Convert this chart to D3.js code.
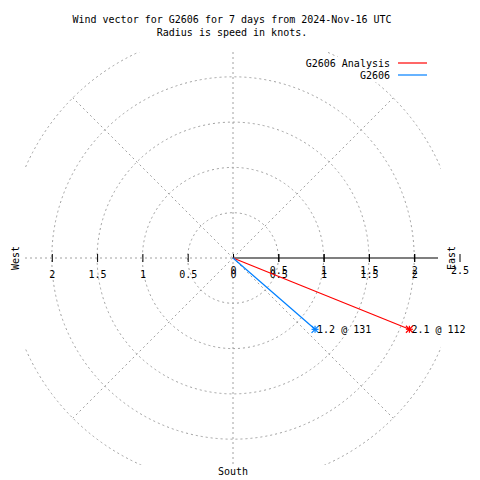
<!DOCTYPE html>
<html><head><meta charset="utf-8">
<script src="https://cdn.jsdelivr.net/npm/d3@7"></script>
<style>
html,body{margin:0;padding:0;background:#fff;}
text{font-family:"DejaVu Sans Mono",monospace;font-size:10px;fill:#000;}
</style></head>
<body>
<svg id="c" width="480" height="480"></svg>
<script>
const titleLines = ["Wind vector for G2606 for 7 days from 2024-Nov-16 UTC", "Radius is speed in knots."];
const seriesNames = ["G2606 Analysis", "G2606"];
const speeds = [2.1, 1.2];
const directions = [112, 131];
const seriesColors = ["#ff0000", "#0080ff"];
const ringValues = [0.5, 1, 1.5, 2, 2.5];
const radialAngles = [45, 135, 225, 315];
const axisTicksRight = [0, 0.5, 1, 1.5, 2, 2.5];
const axisTicksSym = [-2, -1.5, -1, -0.5, 0, 0.5, 1, 1.5, 2];

const svg = d3.select("#c");
const cx = 233, cy = 258;
const maxR = 2.5;
const r = d3.scaleLinear().domain([0, maxR]).range([0, 226.5]);
const xs = d3.scaleLinear().domain([-maxR, maxR]).range([cx - 226.5, cx + 226.5]);
const clip = {x0: 25, y0: 52, x1: 441, y1: 465};

svg.append("defs").append("clipPath").attr("id", "pc")
  .append("rect").attr("x", clip.x0).attr("y", clip.y0)
  .attr("width", clip.x1 - clip.x0).attr("height", clip.y1 - clip.y0);

const grid = svg.append("g").attr("clip-path", "url(#pc)")
  .attr("fill", "none").attr("stroke", "#a0a0a0").attr("stroke-width", 1)
  .attr("stroke-dasharray", "2,3");

grid.selectAll("circle").data(ringValues).join("circle")
  .attr("cx", cx).attr("cy", cy).attr("r", d => r(d));

grid.selectAll("line.rad").data(radialAngles).join("line").attr("class", "rad")
  .attr("x1", cx).attr("y1", cy)
  .attr("x2", d => cx + r(maxR) * Math.sin(d * Math.PI / 180))
  .attr("y2", d => cy - r(maxR) * Math.cos(d * Math.PI / 180));

grid.append("line").attr("x1", cx).attr("x2", cx).attr("y1", clip.y0).attr("y2", clip.y1);
grid.append("line").attr("x1", clip.x0).attr("x2", cx).attr("y1", cy).attr("y2", cy);

svg.append("line").attr("x1", cx).attr("x2", cx + 205).attr("y1", cy).attr("y2", cy)
  .attr("stroke", "#000").attr("stroke-width", 1.2);

const styleText = sel => sel.attr("font-family", null).attr("font-size", null)
  .style("font-family", "'DejaVu Sans Mono',monospace").style("font-size", "10px");

const xr = d3.scaleLinear().domain([0, maxR]).range([cx, cx + r(maxR)]);
const axR = svg.append("g").attr("transform", `translate(0,${cy})`)
  .call(d3.axisBottom(xr).tickValues(axisTicksRight).tickFormat(d3.format("")).tickSizeInner(4).tickSizeOuter(0));
axR.select(".domain").remove();
axR.selectAll(".tick line").attr("y1", -4).attr("y2", 4).attr("stroke", "#000");
axR.selectAll(".tick text").attr("y", 13).attr("dy", "0.32em").call(styleText);
axR.selectAll(".tick").filter(d => d === 0).select("line").remove();

const axS = svg.append("g").attr("transform", `translate(0,${cy})`)
  .call(d3.axisBottom(xs).tickValues(axisTicksSym).tickFormat(d => d3.format("")(Math.abs(d))).tickSizeInner(4).tickSizeOuter(0));
axS.select(".domain").remove();
axS.selectAll(".tick line").attr("y1", -4).attr("y2", 4).attr("stroke", "#000");
axS.selectAll(".tick").filter(d => d === 0).select("line").attr("y1", -4).attr("y2", 0);
axS.selectAll(".tick text").attr("y", 17).attr("dy", "0.32em").call(styleText);

const pts = speeds.map((s, i) => {
  const a = directions[i] * Math.PI / 180;
  return {x: cx + r(s) * Math.sin(a), y: cy - r(s) * Math.cos(a), s, d: directions[i], c: seriesColors[i]};
});
const vg = svg.append("g");
pts.forEach(p => {
  vg.append("line").attr("x1", cx).attr("y1", cy).attr("x2", p.x).attr("y2", p.y)
    .attr("stroke", p.c).attr("stroke-width", 1.2);
  const m = 3.5;
  [[-m,0,m,0],[0,-m,0,m],[-m,-m,m,m],[-m,m,m,-m]].forEach(q => {
    vg.append("line").attr("x1", p.x + q[0]).attr("y1", p.y + q[1]).attr("x2", p.x + q[2]).attr("y2", p.y + q[3])
      .attr("stroke", p.c).attr("stroke-width", 1.2);
  });
  vg.append("text").attr("x", p.x + 2).attr("y", p.y).attr("dy", "0.35em")
    .text(`${p.s} @ ${p.d}`);
});

svg.append("text").attr("transform", "translate(15,258) rotate(-90)").attr("text-anchor", "middle").attr("dy", "0.35em").text("West");
svg.append("text").attr("transform", "translate(451,258) rotate(-90)").attr("text-anchor", "middle").attr("dy", "0.35em").text("East");
svg.append("text").attr("x", cx).attr("y", 471).attr("text-anchor", "middle").attr("dy", "0.35em").text("South");

svg.selectAll("text.title").data(titleLines).join("text").attr("class", "title")
  .attr("x", 232).attr("y", (d, i) => 19 + i * 13).attr("text-anchor", "middle").attr("dy", "0.35em").text(d => d);

const lg = svg.append("g");
lg.append("rect").attr("x", 304).attr("y", 57).attr("width", 130).attr("height", 25).attr("fill", "#fff");
seriesNames.forEach((n, i) => {
  const y = 63 + i * 12;
  lg.append("text").attr("x", 390).attr("y", y).attr("text-anchor", "end").attr("dy", "0.35em").text(n);
  lg.append("line").attr("x1", 398).attr("x2", 427).attr("y1", y).attr("y2", y)
    .attr("stroke", seriesColors[i]).attr("stroke-width", 1.2);
});
</script>
</body></html>
